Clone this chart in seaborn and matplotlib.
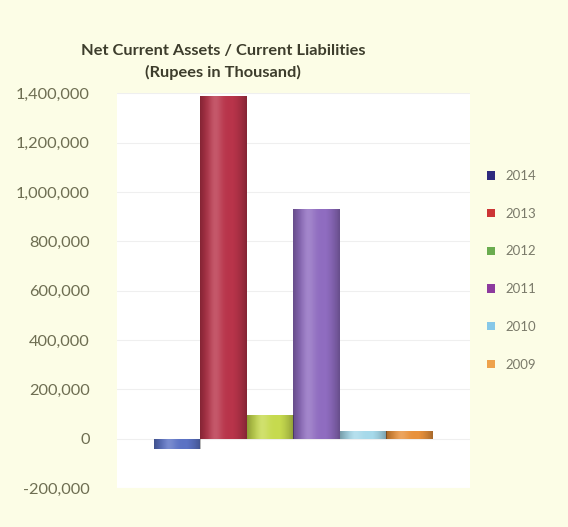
import matplotlib
matplotlib.use("Agg")
import matplotlib.pyplot as plt
from matplotlib.patches import Patch
from matplotlib.ticker import FuncFormatter
import numpy as np
import seaborn as sns
import pandas as pd

# Net current assets / current liabilities, rupees in thousand
years = ["2014", "2013", "2012", "2011", "2010", "2009"]
values = [-40000, 1390000, 95000, 930000, 30000, 30000]
bar_colors = ["#5b72c4", "#b8344a", "#c6da4e", "#8f6cc0", "#a6d9ea", "#e8913c"]
legend_colors = ["#2e2a7e", "#cc3535", "#6aac4f", "#8d3a9e", "#86c8e8", "#eea24c"]
y_ticks = [-200000, 0, 200000, 400000, 600000, 800000, 1000000, 1200000, 1400000]

df = pd.DataFrame({"group": ["A"] * len(years), "year": years, "value": values})

sns.set_theme(style="white")
plt.rcParams["font.family"] = ["Lato", "DejaVu Sans"]

bg = "#fcfde6"
fig = plt.figure(figsize=(5.68, 5.27), dpi=100, facecolor=bg)
ax = fig.add_axes([0.206, 0.074, 0.621, 0.749])
ax.set_facecolor("white")

sns.barplot(data=df, x="group", y="value", hue="year", hue_order=years,
            palette=bar_colors, width=0.79, gap=0, ax=ax, legend=False,
            saturation=1, linewidth=0)

# cylinder-like shading across each bar
xs = np.linspace(-1, 1, 64)
shade = np.zeros((1, 64, 4))
shade[..., 3] = np.clip(0.32 * np.abs(xs) ** 2.2 - 0.04, 0, None)
hi = np.zeros((1, 64, 4))
hi[..., :3] = 1
hi[..., 3] = 0.18 * np.exp(-((xs + 0.35) / 0.3) ** 2)
for p in list(ax.patches):
    x0, y0 = p.get_x(), p.get_y()
    w, h = p.get_width(), p.get_height()
    ext = [x0, x0 + w, min(y0, y0 + h), max(y0, y0 + h)]
    for img in (shade, hi):
        im = ax.imshow(img, extent=ext, aspect="auto", zorder=p.get_zorder() + 0.1,
                       interpolation="bilinear")
        im.set_clip_path(p)
ax.set_xlim(-0.5, 0.5)
ax.set_ylim(-200000, 1400000)

ax.set_yticks(y_ticks)
ax.yaxis.set_major_formatter(FuncFormatter(lambda v, p: f"{int(v):,}"))
ax.tick_params(axis="y", labelsize=11.8, colors="#6e6e52", length=0, pad=19.5)
ax.set_xticks([])
ax.set_xlabel("")
ax.set_ylabel("")
ax.grid(axis="y", color="#efefef", linewidth=0.8)
ax.set_axisbelow(True)
for s in ax.spines.values():
    s.set_visible(False)

fig.text(0.393, 0.903, "Net Current Assets / Current Liabilities",
         ha="center", va="center", fontsize=11.8, fontweight="bold", color="#3d3d2c")
fig.text(0.393, 0.862, "(Rupees in Thousand)",
         ha="center", va="center", fontsize=11.8, fontweight="bold", color="#3d3d2c")

handles = [Patch(facecolor=c, edgecolor="none") for c in legend_colors]
fig.legend(handles, years, loc="upper left", bbox_to_anchor=(0.836, 0.7),
           frameon=False, fontsize=9.5, labelcolor="#7a7a6a",
           handlelength=0.6, handleheight=0.6, handletextpad=0.8,
           labelspacing=1.95)

fig.savefig("out.png", dpi=100, facecolor=bg)
